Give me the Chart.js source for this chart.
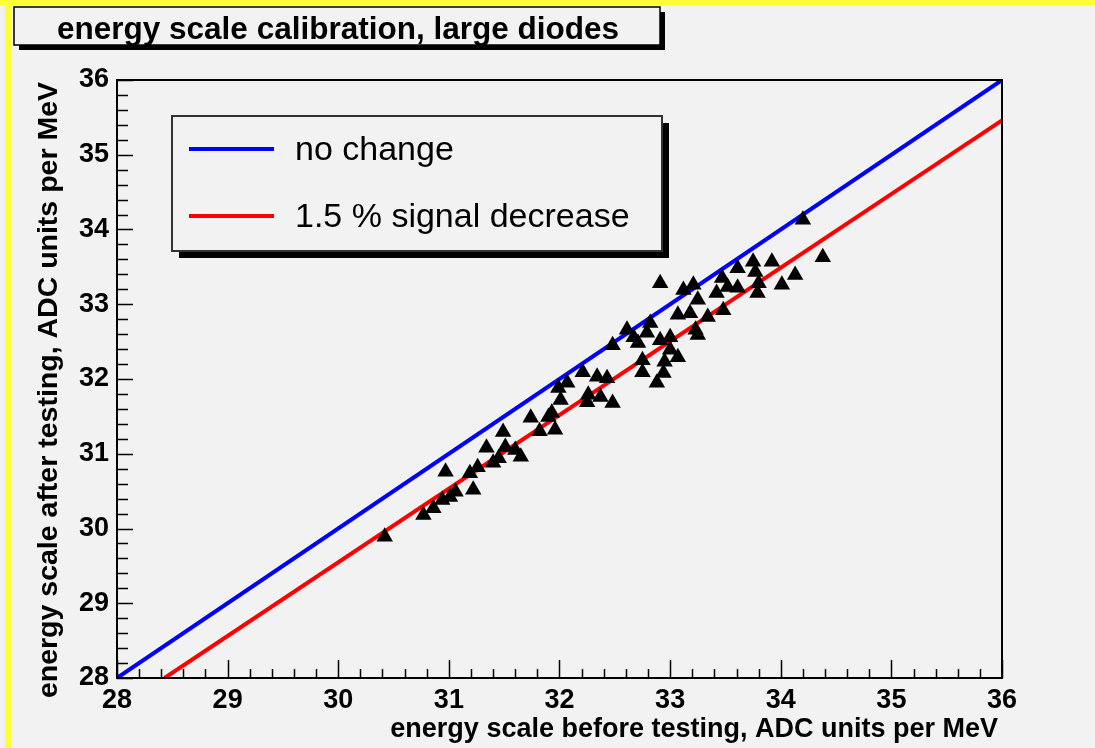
<!DOCTYPE html>
<html>
<head>
<meta charset="utf-8">
<script src="https://cdn.jsdelivr.net/npm/chart.js@4.4.1/dist/chart.umd.min.js"></script>
<style>
  html, body { margin: 0; padding: 0; background: #f2f2f2; }
  #wrap { width: 1095px; height: 748px; position: relative; }
</style>
</head>
<body>
<div id="wrap"><canvas id="c" width="1095" height="748"></canvas></div>
<script>
// ---- data ----
const chartTitle = "energy scale calibration, large diodes";
const xAxisTitle = "energy scale before testing, ADC units per MeV";
const yAxisTitle = "energy scale after testing, ADC units per MeV";
const legendLabels = ["no change", "1.5 % signal decrease"];
const tickValues = [28, 29, 30, 31, 32, 33, 34, 35, 36];

const noChangeX = [28, 36];
const noChangeY = [28, 36];
const decreaseX = [28.43, 36];
const decreaseY = [28, 35.46];

const beforeTesting = [
  30.42, 30.77, 30.86, 30.94, 31.01, 31.06, 30.97, 31.22, 31.19, 31.26,
  31.34, 31.40, 31.45, 31.51, 31.49, 31.60, 31.65, 31.74, 31.82, 31.90,
  31.96, 31.93, 32.01, 31.99, 32.07, 32.21, 32.26, 32.25, 32.34, 32.37,
  32.43, 32.48, 32.48, 32.71, 32.75, 32.75, 32.88, 32.61, 32.67, 32.82,
  32.79, 32.94, 32.95, 32.91, 33.00, 33.00, 33.07, 33.07, 33.18, 33.23,
  33.25, 33.25, 33.42, 33.48, 33.34, 33.12, 33.21, 33.47, 33.52, 33.61,
  33.61, 33.75, 33.77, 33.79, 33.80, 33.92, 34.01, 34.13, 34.20, 34.38,
  32.91
];
const afterTesting = [
  29.89, 30.18, 30.27, 30.38, 30.42, 30.49, 30.76, 30.52, 30.74, 30.82,
  31.08, 30.88, 30.94, 31.09, 31.29, 31.05, 30.96, 31.48, 31.30, 31.49,
  31.32, 31.55, 31.72, 31.88, 31.95, 32.09, 31.79, 31.69, 32.03, 31.76,
  32.01, 31.68, 32.45, 32.48, 32.25, 32.09, 31.95, 32.66, 32.56, 32.75,
  32.62, 32.08, 32.23, 32.52, 32.56, 32.39, 32.29, 32.86, 32.88, 32.66,
  32.59, 33.06, 33.15, 32.92, 32.83, 33.19, 33.26, 33.35, 33.23, 33.22,
  33.48, 33.57, 33.43, 33.15, 33.28, 33.57, 33.26, 33.39, 34.13, 33.63,
  33.28
];

// ---- style ----
const FONT = "'Liberation Sans', Arial, Helvetica, sans-serif";
const BG = '#f2f2f2';

const toPts = (xs, ys) => xs.map((x, i) => ({ x: x, y: ys[i] }));

const decorPlugin = {
  id: 'decor',
  beforeDraw(chart) {
    const ctx = chart.ctx;
    ctx.save();
    ctx.fillStyle = BG;
    ctx.fillRect(0, 0, chart.width, chart.height);
    ctx.restore();
  },
  afterDraw(chart) {
    const ctx = chart.ctx;
    const xs = chart.scales.x, ys = chart.scales.y;
    const L = xs.left, R = xs.right, T = ys.top, B = ys.bottom;
    ctx.save();
    // frame
    ctx.strokeStyle = '#000';
    ctx.lineWidth = 2;
    ctx.strokeRect(L, T, R - L, B - T);
    // x ticks (inside)
    ctx.lineWidth = 1.5;
    ctx.beginPath();
    for (let v = 28; v <= 36.0001; v += 0.2) {
      const px = Math.round(xs.getPixelForValue(v)) + 0.5;
      const major = Math.abs(v - Math.round(v)) < 1e-6;
      ctx.moveTo(px, B);
      ctx.lineTo(px, B - (major ? 18 : 9));
    }
    // y ticks (inside)
    for (let v = 28; v <= 36.0001; v += 0.2) {
      const py = Math.round(ys.getPixelForValue(v)) + 0.5;
      const major = Math.abs(v - Math.round(v)) < 1e-6;
      ctx.moveTo(L, py);
      ctx.lineTo(L + (major ? 16 : 11), py);
    }
    ctx.stroke();

    // axis titles
    ctx.fillStyle = '#000';
    ctx.font = "bold 27px " + FONT;
    ctx.textAlign = 'right';
    ctx.textBaseline = 'alphabetic';
    ctx.fillText(xAxisTitle, R - 4, 737);
    ctx.save();
    ctx.font = "bold 28.5px " + FONT;
    ctx.translate(57, T + 2);
    ctx.rotate(-Math.PI / 2);
    ctx.textAlign = 'right';
    ctx.fillText(yAxisTitle, 0, 0);
    ctx.restore();

    // title box
    ctx.fillStyle = '#000';
    ctx.fillRect(19, 12, 646, 38);
    ctx.fillStyle = BG;
    ctx.fillRect(14, 7, 646, 38);
    ctx.strokeStyle = '#000';
    ctx.lineWidth = 1.5;
    ctx.strokeRect(14, 7, 646, 38);
    ctx.fillStyle = '#000';
    ctx.font = "bold 31.5px " + FONT;
    ctx.textAlign = 'center';
    ctx.textBaseline = 'middle';
    ctx.fillText(chartTitle, 338, 30);

    // legend box
    ctx.fillStyle = '#000';
    ctx.fillRect(179, 123, 490, 135);
    ctx.fillStyle = BG;
    ctx.fillRect(172, 116, 490, 135);
    ctx.strokeStyle = '#333';
    ctx.lineWidth = 2;
    ctx.strokeRect(172, 116, 490, 135);
    const ds = chart.data.datasets;
    const rows = [149, 216];
    ctx.font = "34px " + FONT;
    ctx.textAlign = 'left';
    ctx.textBaseline = 'middle';
    for (let i = 0; i < 2; i++) {
      ctx.strokeStyle = ds[i].borderColor;
      ctx.lineWidth = 4;
      ctx.beginPath();
      ctx.moveTo(189, rows[i]);
      ctx.lineTo(274, rows[i]);
      ctx.stroke();
      ctx.fillStyle = '#000';
      ctx.fillText(legendLabels[i], 295, rows[i] + 2);
    }

    // yellow border
    ctx.fillStyle = '#ffff33';
    ctx.fillRect(0, 0, chart.width, 5);
    ctx.fillRect(5, 0, 6, chart.height);
    ctx.restore();
  }
};

new Chart(document.getElementById('c'), {
  type: 'scatter',
  data: {
    datasets: [
      {
        label: legendLabels[0],
        data: toPts(noChangeX, noChangeY),
        showLine: true, borderColor: '#0000ff', borderWidth: 4,
        pointRadius: 0, fill: false, order: 2
      },
      {
        label: legendLabels[1],
        data: toPts(decreaseX, decreaseY),
        showLine: true, borderColor: '#ff0000', borderWidth: 4,
        pointRadius: 0, fill: false, order: 1
      },
      {
        label: 'measured',
        data: toPts(beforeTesting, afterTesting),
        pointStyle: 'triangle', pointRadius: 9.5,
        backgroundColor: '#000', borderColor: '#000', borderWidth: 0,
        order: 0
      }
    ]
  },
  options: {
    responsive: false,
    animation: false,
    devicePixelRatio: 1,
    layout: { padding: { top: 80, right: 93, left: 0, bottom: 0 } },
    plugins: { legend: { display: false }, tooltip: { enabled: false } },
    scales: {
      x: {
        type: 'linear', min: 28, max: 36,
        afterBuildTicks: (s) => { s.ticks = tickValues.map(v => ({ value: v })); },
        afterFit: (s) => { s.height = 70; },
        grid: { display: false, drawTicks: false },
        border: { display: false },
        ticks: { color: '#000', font: { family: FONT, size: 27, weight: 'bold' }, padding: 6, maxRotation: 0 }
      },
      y: {
        type: 'linear', min: 28, max: 36,
        afterBuildTicks: (s) => { s.ticks = tickValues.map(v => ({ value: v })); },
        afterFit: (s) => { s.width = 117; },
        grid: { display: false, drawTicks: false },
        border: { display: false },
        ticks: { color: '#000', font: { family: FONT, size: 27, weight: 'bold' }, padding: 8 }
      }
    }
  },
  plugins: [decorPlugin]
});
</script>
</body>
</html>
